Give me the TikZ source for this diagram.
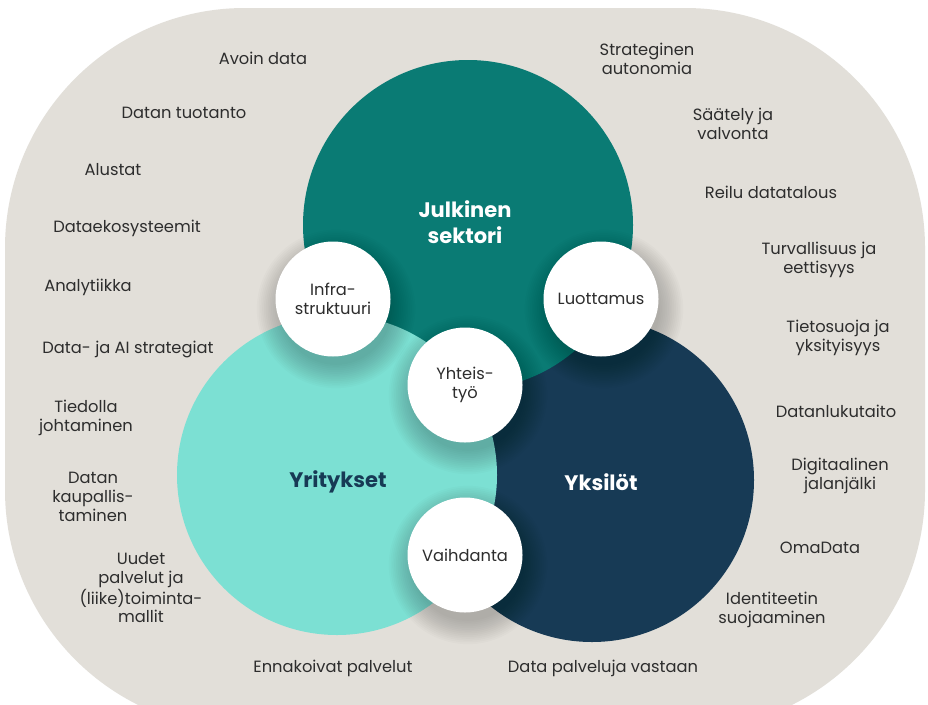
\documentclass[tikz,border=0pt]{standalone}
\usepackage{fontspec}
\setmainfont{Poppins}
\definecolor{bgbeige}{HTML}{E2DFD9}
\definecolor{tealc}{HTML}{0A7B74}
\definecolor{lightc}{HTML}{7CE0D3}
\definecolor{navyc}{HTML}{173A55}
\definecolor{txt}{HTML}{2D2D2D}
\newcommand\dropshade[2]{%
  \foreach \k in {1,...,14}{%
    \fill[black, opacity=0.016] (#1+3,#2+10) circle[radius=54pt+\k*1.8pt];}}
\begin{document}
\begin{tikzpicture}[x=1pt,y=-1pt,
  lbl/.style={text=txt, align=center, font=\fontsize{16.3}{18.8}\selectfont, inner sep=0pt},
  big/.style={align=center, font=\fontsize{21}{26}\selectfont\bfseries, inner sep=0pt},
  disc/.style={circle, inner sep=0pt, outer sep=0pt, minimum size=#1},
  small/.style={disc=115pt, fill=white, text=txt, align=center, font=\fontsize{16.3}{18.8}\selectfont}
]
\useasboundingbox (0,0) rectangle (928,704);
\clip (0,0) rectangle (928,704);
\fill[white] (0,0) rectangle (928,704);
\fill[bgbeige, rounded corners=240pt] (5,8) rectangle (925,730);

% big circles
\node[disc=324pt, fill=navyc] (yksilot) at (592,480) {};
\node[disc=330pt, fill=tealc] (julkinen) at (468,225) {};
\node[disc=320pt, fill=lightc] (yritykset) at (337,475) {};

\node[big, text=white] (tjulk) at (465,222) {Julkinen\\sektori};
\node[big, text=navyc] (tyrit) at (338,482) {Yritykset};
\node[big, text=white] (tyks) at (601,482) {Yksilöt};

% shadows
\dropshade{333}{299}
\dropshade{601}{299}
\dropshade{465}{385}
\dropshade{465}{555}

% small circles
\node[small] (infra) at (333,299) {Infra-\\struktuuri};
\node[small] (luott) at (601,299) {Luottamus};
\node[small] (yhteis) at (465,385) {Yhteis-\\työ};
\node[small] (vaihd) at (465,555) {Vaihdanta};

% left labels
\node[lbl] (l1) at (263,58) {Avoin data};
\node[lbl] (l2) at (184,113) {Datan tuotanto};
\node[lbl] (l3) at (113,170) {Alustat};
\node[lbl] (l4) at (127,228) {Dataekosysteemit};
\node[lbl] (l5) at (88,287) {Analytiikka};
\node[lbl] (l6) at (128,349) {Data- ja AI strategiat};
\node[lbl] (l7) at (86,418) {Tiedolla\\johtaminen};
\node[lbl] (l8) at (93,497) {Datan\\kaupallis-\\taminen};
\node[lbl] (l9) at (141,588) {Uudet\\palvelut ja\\(liike)toiminta-\\mallit};
\node[lbl] (l10) at (333,668) {Ennakoivat palvelut};

% right labels
\node[lbl] (r1) at (647,59) {Strateginen\\autonomia};
\node[lbl] (r2) at (733,124) {Säätely ja\\valvonta};
\node[lbl] (r3) at (771,192) {Reilu datatalous};
\node[lbl] (r4) at (819,260) {Turvallisuus ja\\eettisyys};
\node[lbl] (r5) at (838,338) {Tietosuoja ja\\yksityisyys};
\node[lbl] (r6) at (836,411) {Datanlukutaito};
\node[lbl] (r7) at (840,476) {Digitaalinen\\jalanjälki};
\node[lbl] (r8) at (820,548) {OmaData};
\node[lbl] (r9) at (772,610) {Identiteetin\\suojaaminen};
\node[lbl] (r10) at (603,668) {Data palveluja vastaan};
\end{tikzpicture}
\end{document}
